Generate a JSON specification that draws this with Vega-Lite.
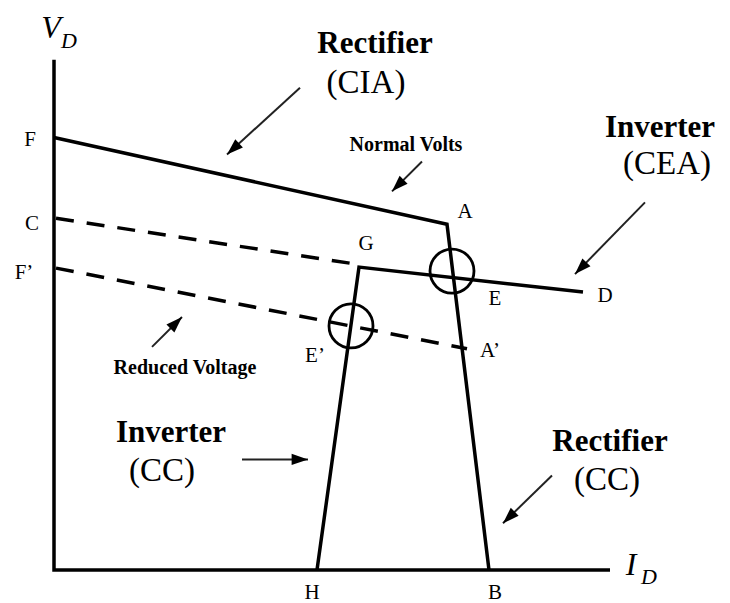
{
  "$schema": "https://vega.github.io/schema/vega-lite/v6.json",
  "width": 730,
  "height": 603,
  "autosize": {"type": "fit", "contains": "padding"},
  "padding": 0,
  "background": "white",
  "config": {"view": {"stroke": null}},
  "datasets": {
    "lines": [
      {"line": "axes", "o": 1, "I": 0, "V": 512, "dash": "solid"},
      {"line": "axes", "o": 2, "I": 0, "V": 0, "dash": "solid"},
      {"line": "axes", "o": 3, "I": 556, "V": 0, "dash": "solid"},
      {"line": "rect", "o": 1, "I": 0, "V": 434, "dash": "solid"},
      {"line": "rect", "o": 2, "I": 393, "V": 347, "dash": "solid"},
      {"line": "rect", "o": 3, "I": 435, "V": 0, "dash": "solid"},
      {"line": "inv", "o": 1, "I": 263, "V": 0, "dash": "solid"},
      {"line": "inv", "o": 2, "I": 305, "V": 304, "dash": "solid"},
      {"line": "inv", "o": 3, "I": 529, "V": 279, "dash": "solid"},
      {"line": "normal", "o": 1, "I": 2, "V": 353, "dash": "dashed"},
      {"line": "normal", "o": 2, "I": 302, "V": 307, "dash": "dashed"},
      {"line": "reduced", "o": 1, "I": 2, "V": 303, "dash": "dashed"},
      {"line": "reduced", "o": 2, "I": 413, "V": 222, "dash": "dashed"}
    ],
    "circles": [
      {"name": "operating point", "I": 398, "V": 300},
      {"name": "reduced operating point", "I": 297, "V": 245}
    ],
    "arrows": [
      {"to": "Rectifier (CIA)", "I": 246, "V": 484, "I2": 173, "V2": 417},
      {"to": "Normal Volts", "I": 368, "V": 410, "I2": 338, "V2": 380},
      {"to": "Inverter (CEA)", "I": 591, "V": 369, "I2": 521, "V2": 297},
      {"to": "Reduced Voltage", "I": 98, "V": 224, "I2": 128, "V2": 254},
      {"to": "Inverter (CC)", "I": 188, "V": 111, "I2": 254, "V2": 111},
      {"to": "Rectifier (CC)", "I": 498, "V": 95, "I2": 449, "V2": 47}
    ],
    "labels": [
      {"t": "V", "k": "axmain", "I": -3, "V": 534},
      {"t": "D", "k": "axsub", "I": 15, "V": 524},
      {"t": "I", "k": "axmain", "I": 577, "V": -5},
      {"t": "D", "k": "axsub", "I": 595, "V": -14},
      {"t": "F", "k": "pt", "I": -24, "V": 432},
      {"t": "C", "k": "pt", "I": -22, "V": 347},
      {"t": "F’", "k": "pt", "I": -30, "V": 298},
      {"t": "A", "k": "pt", "I": 411, "V": 359},
      {"t": "G", "k": "pt", "I": 312, "V": 327},
      {"t": "E", "k": "pt", "I": 441, "V": 272},
      {"t": "D", "k": "pt", "I": 551, "V": 275},
      {"t": "E’", "k": "pt", "I": 261, "V": 215},
      {"t": "A’", "k": "pt", "I": 436, "V": 220},
      {"t": "H", "k": "pt", "I": 258, "V": -23},
      {"t": "B", "k": "pt", "I": 441, "V": -23},
      {"t": "Rectifier", "k": "title", "I": 321, "V": 519},
      {"t": "Inverter", "k": "title", "I": 606, "V": 435},
      {"t": "Inverter", "k": "title", "I": 117, "V": 129},
      {"t": "Rectifier", "k": "title", "I": 556, "V": 120},
      {"t": "(CIA)", "k": "paren", "I": 312, "V": 479},
      {"t": "(CEA)", "k": "paren", "I": 613, "V": 397},
      {"t": "(CC)", "k": "paren", "I": 108, "V": 89},
      {"t": "(CC)", "k": "paren", "I": 553, "V": 80},
      {"t": "Normal Volts", "k": "note", "I": 352, "V": 420},
      {"t": "Reduced Voltage", "k": "note", "I": 131, "V": 197}
    ]
  },
  "encoding": {
    "x": {"field": "I", "type": "quantitative", "axis": null, "scale": {"domain": [-54, 676], "nice": false, "zero": false}},
    "y": {"field": "V", "type": "quantitative", "axis": null, "scale": {"domain": [-31, 572], "nice": false, "zero": false}}
  },
  "layer": [
    {
      "data": {"name": "lines"},
      "transform": [{"filter": "datum.dash == 'solid'"}],
      "mark": {"type": "line", "color": "black", "strokeWidth": 3.5, "strokeJoin": "miter", "strokeCap": "butt"},
      "encoding": {"detail": {"field": "line"}, "order": {"field": "o", "type": "quantitative"}}
    },
    {
      "data": {"name": "lines"},
      "transform": [{"filter": "datum.dash == 'dashed'"}],
      "mark": {"type": "line", "color": "black", "strokeWidth": 3.5, "strokeDash": [18, 13], "strokeCap": "butt"},
      "encoding": {"detail": {"field": "line"}, "order": {"field": "o", "type": "quantitative"}}
    },
    {
      "data": {"name": "circles"},
      "mark": {"type": "point", "shape": "circle", "filled": false, "stroke": "black", "strokeWidth": 2.8, "size": 1936, "opacity": 1}
    },
    {
      "data": {"name": "arrows"},
      "mark": {"type": "rule", "color": "#222", "strokeWidth": 2},
      "encoding": {
        "x2": {"field": "I2"},
        "y2": {"field": "V2"}
      }
    },
    {
      "data": {"name": "arrows"},
      "transform": [{"calculate": "atan2(datum.I2 - datum.I, datum.V2 - datum.V) * 180 / PI", "as": "ang"}],
      "mark": {"type": "point", "shape": "M0,0L-0.55,1.6L0.55,1.6Z", "filled": true, "color": "black", "size": 420, "opacity": 1},
      "encoding": {
        "x": {"field": "I2", "type": "quantitative"},
        "y": {"field": "V2", "type": "quantitative"},
        "angle": {"field": "ang", "type": "quantitative", "scale": null}
      }
    },
    {
      "data": {"name": "labels"},
      "transform": [{"filter": "datum.k == 'pt'"}],
      "mark": {"type": "text", "font": "Liberation Serif", "fontSize": 21, "align": "center", "baseline": "middle", "color": "black"},
      "encoding": {"text": {"field": "t"}}
    },
    {
      "data": {"name": "labels"},
      "transform": [{"filter": "datum.k == 'title'"}],
      "mark": {"type": "text", "font": "Liberation Serif", "fontSize": 31, "fontWeight": "bold", "align": "center", "baseline": "alphabetic", "color": "black"},
      "encoding": {"text": {"field": "t"}}
    },
    {
      "data": {"name": "labels"},
      "transform": [{"filter": "datum.k == 'paren'"}],
      "mark": {"type": "text", "font": "Liberation Serif", "fontSize": 33, "align": "center", "baseline": "alphabetic", "color": "black"},
      "encoding": {"text": {"field": "t"}}
    },
    {
      "data": {"name": "labels"},
      "transform": [{"filter": "datum.k == 'note'"}],
      "mark": {"type": "text", "font": "Liberation Serif", "fontSize": 20, "fontWeight": "bold", "align": "center", "baseline": "alphabetic", "color": "black"},
      "encoding": {"text": {"field": "t"}}
    },
    {
      "data": {"name": "labels"},
      "transform": [{"filter": "datum.k == 'axmain'"}],
      "mark": {"type": "text", "font": "Liberation Serif", "fontSize": 32, "fontStyle": "italic", "align": "center", "baseline": "alphabetic", "color": "black"},
      "encoding": {"text": {"field": "t"}}
    },
    {
      "data": {"name": "labels"},
      "transform": [{"filter": "datum.k == 'axsub'"}],
      "mark": {"type": "text", "font": "Liberation Serif", "fontSize": 22, "fontStyle": "italic", "align": "center", "baseline": "alphabetic", "color": "black"},
      "encoding": {"text": {"field": "t"}}
    }
  ]
}
